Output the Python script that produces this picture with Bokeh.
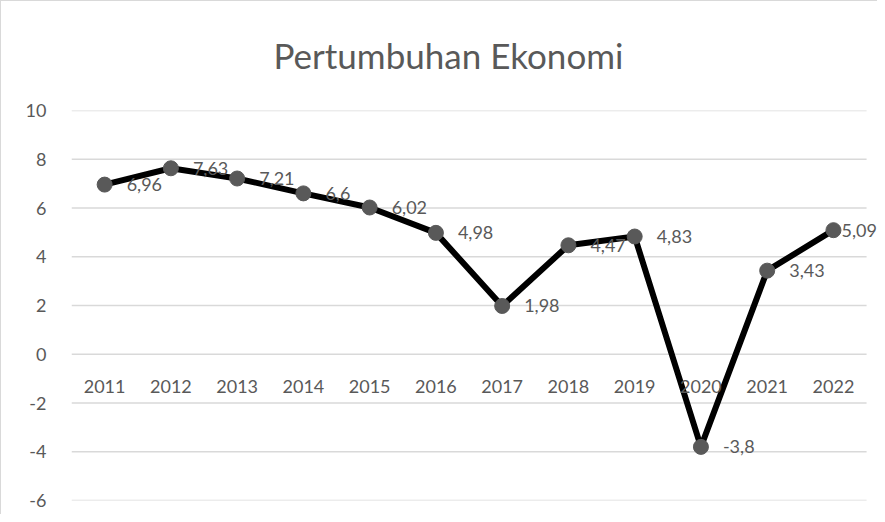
from bokeh.plotting import figure
from bokeh.models import Range1d, FixedTicker, ColumnDataSource, LabelSet
from bokeh.core.properties import value
from bokeh.embed import file_html
from bokeh.resources import INLINE

years = [2011, 2012, 2013, 2014, 2015, 2016, 2017, 2018, 2019, 2020, 2021, 2022]
growth = [6.96, 7.63, 7.21, 6.6, 6.02, 4.98, 1.98, 4.47, 4.83, -3.8, 3.43, 5.09]
y_ticks = [-6, -4, -2, 0, 2, 4, 6, 8, 10]
title_text = "Pertumbuhan Ekonomi"

FONT = "Lato"
GRAY = "#595959"
GRID = "#d9d9d9"

labels = [str(v).replace(".", ",") for v in growth]
label_offsets = [22] * (len(years) - 1) + [8]
src = ColumnDataSource(dict(x=years, y=growth, lab=labels, xo=label_offsets))

# each year occupies one band of width 1 centred on the year
band_lo = years[0] - 0.5
band_hi = years[-1] + 0.5

p = figure(
    width=877, height=514,
    x_range=Range1d(band_lo, band_hi + 0.18), y_range=Range1d(y_ticks[0], y_ticks[-1]),
    output_backend="svg", toolbar_location=None,
    min_border_left=70, min_border_right=0, min_border_top=109, min_border_bottom=15,
)
p.styles = {"border-left": "1px solid #d9d9d9", "border-top": "1px solid #d9d9d9"}

p.title.text = title_text
p.title.align = "left"
p.title.offset = 202
p.title.vertical_align = "top"
p.title.text_font = FONT
p.title.text_font_size = "35px"
p.title.text_font_style = "normal"
p.title.text_color = GRAY
p.title.standoff = 65

p.outline_line_color = None
p.xgrid.grid_line_color = None
p.ygrid.grid_line_color = None

# horizontal gridlines limited to the category bands
p.segment(x0=[band_lo] * len(y_ticks), x1=[band_hi] * len(y_ticks), y0=y_ticks, y1=y_ticks,
          line_color=GRID, line_width=1.5, level="underlay")

p.yaxis.ticker = FixedTicker(ticks=y_ticks)
p.yaxis.major_label_overrides = {t: str(t) for t in y_ticks}
p.yaxis.axis_line_color = None
p.yaxis.major_tick_line_color = None
p.yaxis.minor_tick_line_color = None
p.yaxis.major_tick_out = 0
p.yaxis.major_label_standoff = 25
p.yaxis.major_label_text_font = FONT
p.yaxis.major_label_text_font_size = "18px"
p.yaxis.major_label_text_color = GRAY

p.xaxis.ticker = FixedTicker(ticks=years)
p.xaxis.major_label_overrides = {y: str(y) for y in years}
p.xaxis.fixed_location = 0
p.xaxis.axis_line_color = None
p.xaxis.major_tick_line_color = None
p.xaxis.minor_tick_line_color = None
p.xaxis.major_tick_out = 0
p.xaxis.major_label_standoff = 26
p.xaxis.major_label_text_font = FONT
p.xaxis.major_label_text_font_size = "18px"
p.xaxis.major_label_text_color = GRAY

p.line("x", "y", source=src, line_color="black", line_width=6, line_join="round")
p.scatter("x", "y", source=src, size=15, fill_color=GRAY, line_color=GRAY)

p.add_layout(LabelSet(x="x", y="y", text="lab", source=src, x_offset="xo", y_offset=0,
                      text_baseline="middle", text_align="left",
                      text_font=value(FONT), text_font_size="18px", text_color=GRAY))

open("out.html", "w").write(file_html(p, INLINE))
